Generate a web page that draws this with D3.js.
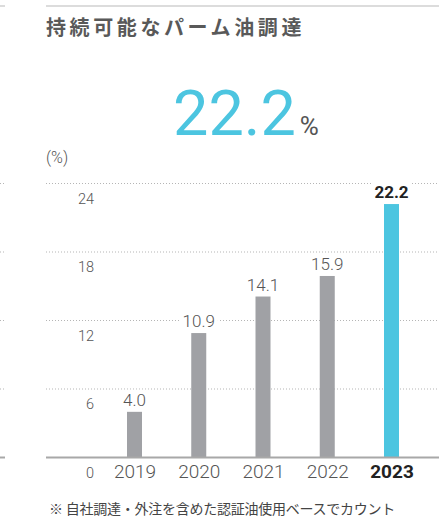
<!DOCTYPE html>
<html><head><meta charset="utf-8">
<script src="https://cdn.jsdelivr.net/npm/d3@7"></script>
<style>body{margin:0;background:#fff;}svg{display:block;}</style>
</head><body>
<script>
const years = ["2019","2020","2021","2022","2023"];
const values = [4.0, 10.9, 14.1, 15.9, 22.2];
const valueLabels = ["4.0","10.9","14.1","15.9","22.2"];
const yTicks = [0, 6, 12, 18, 24];
const title = "持続可能なパーム油調達";
const headline = "22.2";
const note = "※ 自社調達・外注を含めた認証油使用ベースでカウント";

const W = 439, H = 517;
const svg = d3.select("body").append("svg").attr("width", W).attr("height", H);
const numFont = "Roboto, 'DejaVu Sans', sans-serif";
const jpFont = "'Noto Sans CJK JP', 'Noto Sans', sans-serif";

// top rule + neighbour fragments
svg.append("line").attr("x1",46).attr("x2",W).attr("y1",6).attr("y2",6).attr("stroke","#dcdcdc").attr("stroke-width",2);
svg.append("line").attr("x1",0).attr("x2",5).attr("y1",6).attr("y2",6).attr("stroke","#dcdcdc").attr("stroke-width",2);

svg.append("text").attr("x",46).attr("y",35).text(title)
  .attr("font-family",jpFont).attr("font-weight",700).attr("font-size",20)
  .attr("letter-spacing","3.6px").attr("fill","#595959");

const big = svg.append("text").attr("x",173).attr("y",135).attr("font-family",numFont);
big.append("tspan").text(headline).attr("font-size",63).attr("font-weight",400).attr("fill","#4cc5e0");
big.append("tspan").text("%").attr("font-size",26).attr("fill","#555").attr("dx",4);

svg.append("text").attr("x",46).attr("y",163).text("(%)")
  .attr("font-family",numFont).attr("font-weight",300).attr("font-size",16).attr("fill","#555");

const y = d3.scaleLinear().domain([0,24]).range([457.5,183.5]);
const x = d3.scalePoint().domain(years).range([134.5,391.5]);

// grid
const grid = svg.append("g");
yTicks.filter(t=>t>0).forEach(t=>{
  grid.append("line").attr("x1",46).attr("x2",W).attr("y1",y(t)).attr("y2",y(t))
    .attr("stroke","#b5b5b5").attr("stroke-width",1).attr("stroke-dasharray","1,2");
  grid.append("line").attr("x1",0).attr("x2",4).attr("y1",y(t)).attr("y2",y(t))
    .attr("stroke","#b5b5b5").attr("stroke-width",1).attr("stroke-dasharray","1,2");
});

// y tick labels
const yAxis = d3.axisLeft(y).tickValues(yTicks).tickSize(0).tickPadding(0);
const ya = svg.append("g").attr("transform","translate(94,0)").call(yAxis);
ya.select(".domain").remove();
ya.selectAll("text").attr("font-family",numFont).attr("font-weight",300).attr("font-size",14.5)
  .attr("fill","#555").attr("dy","1.35em");

// bars
svg.append("g").selectAll("rect").data(values).join("rect")
  .attr("x",(d,i)=>x(years[i])-7.5).attr("width",15)
  .attr("y",d=>y(d)).attr("height",d=>y(0)-y(d))
  .attr("fill",(d,i)=>i===years.length-1?"#4cc5e0":"#a0a1a5");

// baseline
svg.append("line").attr("x1",46).attr("x2",W).attr("y1",y(0)).attr("y2",y(0)).attr("stroke","#a8a8a8").attr("stroke-width",2);
svg.append("line").attr("x1",0).attr("x2",5).attr("y1",y(0)).attr("y2",y(0)).attr("stroke","#a8a8a8").attr("stroke-width",2);

// value labels with white background
const lab = svg.append("g");
values.forEach((v,i)=>{
  const last = i===years.length-1;
  const g = lab.append("g");
  const t = g.append("text").attr("x",x(years[i])).attr("y",y(v)-6).attr("text-anchor","middle")
    .text(valueLabels[i]).attr("font-family",numFont).attr("font-size",17)
    .attr("font-weight",last?700:300).attr("fill",last?"#222":"#555");
  const bb = t.node().getBBox();
  g.insert("rect","text").attr("x",bb.x-3).attr("y",bb.y).attr("width",bb.width+6).attr("height",bb.height).attr("fill","#fff");
});

// x axis labels
const xAxis = d3.axisBottom(x).tickSize(0).tickPadding(0);
const xa = svg.append("g").attr("transform",`translate(0,${y(0)})`).call(xAxis);
xa.select(".domain").remove();
xa.selectAll("text").attr("font-family",numFont).attr("font-size",19).attr("dy","1.1em")
  .attr("font-weight",(d,i)=>i===years.length-1?700:300)
  .attr("fill",(d,i)=>i===years.length-1?"#222":"#555");

svg.append("text").attr("x",49).attr("y",514).text(note)
  .attr("font-family",jpFont).attr("font-size",14).attr("letter-spacing","-0.25px").attr("fill","#444");
</script>
</body></html>
